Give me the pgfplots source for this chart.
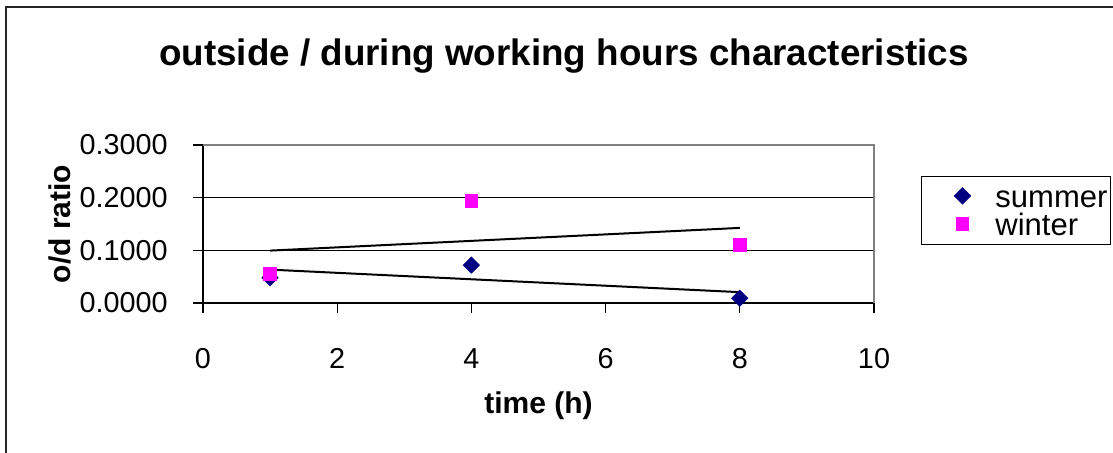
\documentclass[border=0pt]{standalone}
\usepackage{fontspec}
\setmainfont{Liberation Sans}
\usepackage{pgfplots}
\pgfplotsset{compat=1.18}
\definecolor{navyblue}{HTML}{000080}
\definecolor{mag}{HTML}{FF00FF}
\definecolor{bordergray}{HTML}{808080}
\begin{document}
\begin{tikzpicture}
\useasboundingbox (-101.5pt,-74.5pt) rectangle (455pt,151.5pt);
\draw[line width=1pt,black!85] (-98.5pt,-80pt) -- (-98.5pt,148pt) -- (460pt,148pt);
\node[anchor=base,inner sep=0pt,font=\fontsize{18.4}{20}\selectfont\bfseries] at (180.5pt,119pt) {outside / during working hours characteristics};
\begin{axis}[
  scale only axis,
  width=335.5pt, height=79pt,
  xmin=0, xmax=10, ymin=0, ymax=0.3,
  xtick={0,2,4,6,8,10},
  ytick={0,0.1,0.2,0.3},
  axis x line*=bottom, axis y line*=left,
  axis line style={black, line width=0.75pt, -},
  tick align=outside,
  major tick length=5pt,
  tick style={black, line width=0.6pt},
  ymajorgrids,
  grid style={black, line width=0.5pt},
  clip=false,
  /pgf/number format/assume math mode=true,
  yticklabel style={/pgf/number format/.cd, fixed, fixed zerofill, precision=4, /tikz/.cd, font=\fontsize{14.4}{16}\selectfont, anchor=east, inner sep=0pt, xshift=-12.5pt},
  xticklabel style={font=\fontsize{14.4}{16}\selectfont, anchor=north, inner sep=0pt, yshift=-17.5pt},
  scaled y ticks=false,
  xlabel={time (h)},
  ylabel={o/d ratio},
  xlabel style={at={(axis description cs:0.5,0)}, anchor=north, inner sep=0pt, yshift=-44pt, font=\fontsize{15}{17}\selectfont\bfseries},
  ylabel style={at={([xshift=-71.5pt]axis description cs:0,0.5)}, anchor=center, inner sep=0pt, font=\fontsize{15}{17}\selectfont\bfseries},
  legend style={at={(axis description cs:1.070,0.804)}, anchor=north west, draw=black, line width=0.5pt, inner xsep=1.5pt, inner ysep=3pt, column sep=5.5pt, row sep=0pt, font=\fontsize{15.5}{17}\selectfont, nodes={inner sep=0pt, text height=12.5pt, text depth=1.5pt}},
  legend cell align=left,
  legend image code/.code={\path[draw=none,fill=none] (0pt,0pt) rectangle (30pt,6pt); \draw[#1,mark repeat=2,mark phase=2] plot coordinates {(0pt,0.3pt)(19pt,0.3pt)(30pt,0.3pt)};},
]
\addplot[only marks, mark=square*, mark size=2.85pt, mark options={rotate=45, fill=navyblue, draw=navyblue}] coordinates {(1,0.048) (4,0.072) (8,0.009)};
\addlegendentry{summer}
\addplot[only marks, mark=square*, mark size=3.2pt, mark options={fill=mag, draw=mag}] coordinates {(1,0.056) (4,0.194) (8,0.110)};
\addlegendentry{winter}
\addplot[black, line width=1pt, forget plot] coordinates {(1,0.0634) (8,0.0206)};
\addplot[black, line width=1pt, forget plot] coordinates {(1,0.0995) (8,0.1426)};
\draw[bordergray, line width=1pt] (rel axis cs:0,1) -- (rel axis cs:1,1) -- (rel axis cs:1,0);
\end{axis}
\end{tikzpicture}
\end{document}
